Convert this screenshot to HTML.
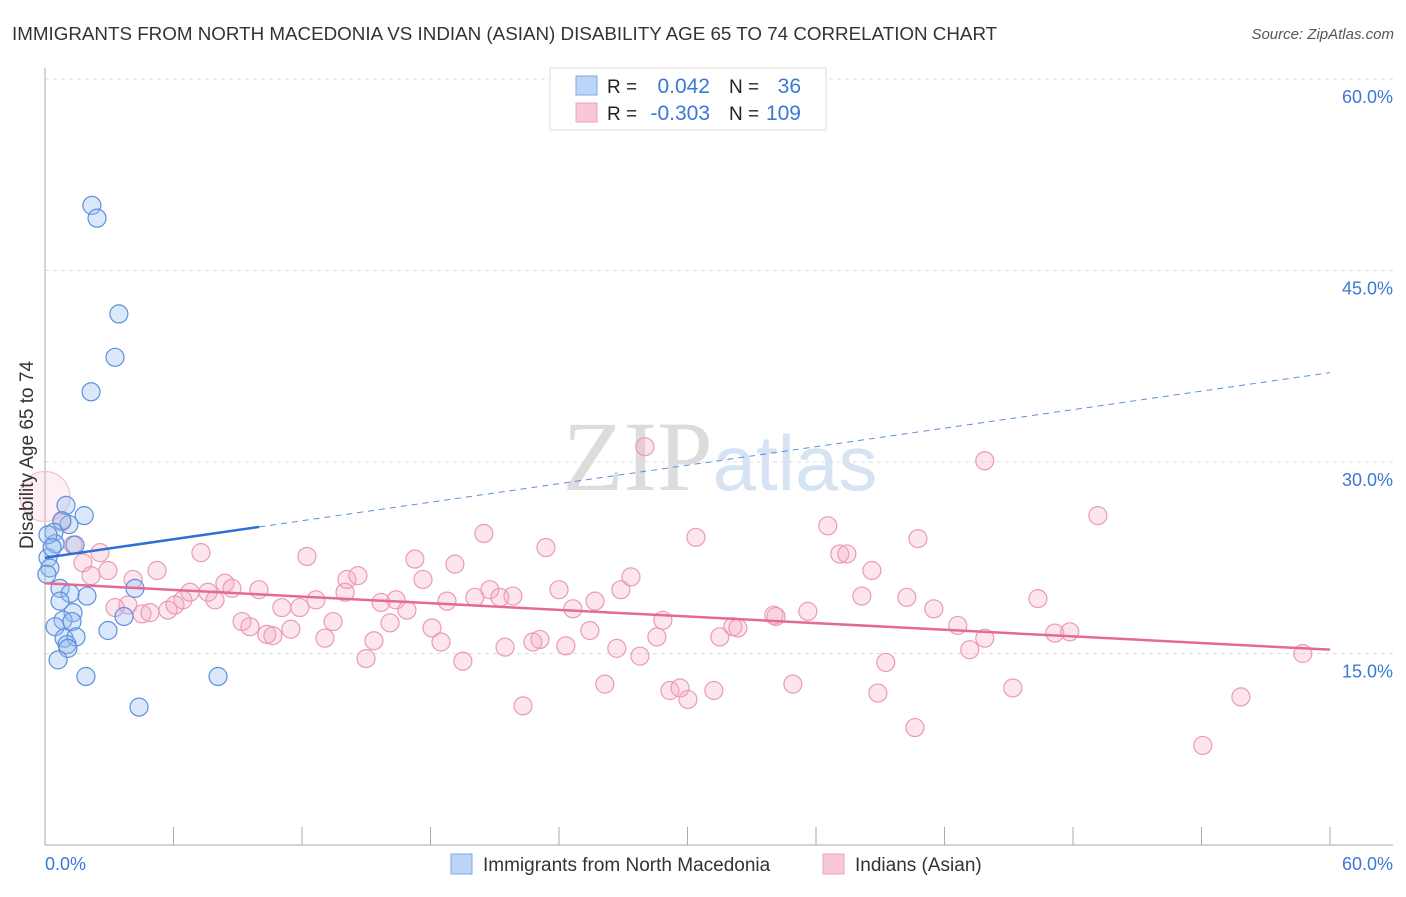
<!DOCTYPE html>
<html><head><meta charset="utf-8"><style>
body{margin:0;background:#fff;font-family:"Liberation Sans",sans-serif;}
svg text{font-family:"Liberation Sans",sans-serif;}
</style></head><body>
<svg id="chart" width="1406" height="892" viewBox="0 0 1406 892" xmlns="http://www.w3.org/2000/svg">
<text x="12" y="40" font-size="18.8" fill="#333">IMMIGRANTS FROM NORTH MACEDONIA VS INDIAN (ASIAN) DISABILITY AGE 65 TO 74 CORRELATION CHART</text>
<text x="1394" y="39" font-size="15" fill="#555" font-style="italic" text-anchor="end">Source: ZipAtlas.com</text>
<text x="720" y="490" font-size="100" fill="#e4e4e4" text-anchor="middle" font-family="Liberation Serif"><tspan fill="#dcdcdc" font-family="Liberation Serif">ZIP</tspan><tspan fill="#d5e3f3" font-family="Liberation Sans" font-size="78">atlas</tspan></text>
<g id="grid"></g>
<g id="axes"></g>
<g id="marks"></g>
<g id="lines"></g>
<text transform="translate(33,455) rotate(-90)" font-size="19" fill="#333" text-anchor="middle">Disability Age 65 to 74</text>
<g>
<rect x="550" y="68" width="276" height="62" fill="#fff" stroke="#ddd"/>
<rect x="576" y="76" width="21" height="19" fill="#bcd4f5" stroke="#7fa8e3"/>
<rect x="576" y="103" width="21" height="19" fill="#f9c8d6" stroke="#eea0ba"/>
<text x="607" y="93" font-size="19" fill="#222">R =</text>
<text x="710" y="93" font-size="21" fill="#3b78d6" text-anchor="end">0.042</text>
<text x="729" y="93" font-size="19" fill="#222">N =</text>
<text x="801" y="93" font-size="21" fill="#3b78d6" text-anchor="end">36</text>
<text x="607" y="120" font-size="19" fill="#222">R =</text>
<text x="710" y="120" font-size="21" fill="#3b78d6" text-anchor="end">-0.303</text>
<text x="729" y="120" font-size="19" fill="#222">N =</text>
<text x="801" y="120" font-size="21" fill="#3b78d6" text-anchor="end">109</text>
</g>
<g>
<rect x="451" y="854" width="21" height="20" fill="#bcd4f5" stroke="#7fa8e3"/>
<text x="483" y="871" font-size="19" fill="#333">Immigrants from North Macedonia</text>
<rect x="823" y="854" width="21" height="20" fill="#f9c8d6" stroke="#eea0ba"/>
<text x="855" y="871" font-size="19" fill="#333">Indians (Asian)</text>
</g>
</svg>
<script>
const blueX=[2.19,2.43,3.45,3.27,2.15,0.98,1.83,1.12,0.79,0.42,0.47,1.40,0.14,0.23,0.09,0.70,1.96,1.17,0.70,1.31,0.84,1.26,0.47,2.94,3.69,4.20,0.89,1.45,1.03,1.07,0.61,1.91,8.08,4.39,0.14,0.33];
const blueY=[50.1,49.1,41.6,38.2,35.5,26.6,25.8,25.1,25.4,24.5,23.6,23.5,22.5,21.7,21.2,20.1,19.5,19.7,19.1,18.2,17.6,17.5,17.1,16.8,17.9,20.1,16.2,16.3,15.7,15.4,14.5,13.2,13.2,10.8,24.3,23.3];
const pinkX=[0.0,0.79,1.31,1.77,2.57,2.15,2.94,3.87,3.27,4.11,4.53,4.90,5.23,5.74,6.07,6.44,6.77,7.28,7.61,7.94,8.40,8.73,9.20,9.57,9.99,10.36,10.64,11.06,11.48,11.90,12.23,12.65,13.07,13.45,14.10,14.61,14.01,14.99,15.36,15.69,16.11,16.39,16.90,17.27,17.65,18.07,18.49,18.77,19.14,19.51,20.07,20.49,20.77,21.24,21.48,21.85,22.32,22.78,23.11,23.39,24.00,24.32,24.65,25.44,25.68,26.14,26.70,26.89,27.36,27.78,28.01,28.57,28.85,29.18,29.65,30.02,30.39,31.23,31.51,32.12,32.35,34.03,34.13,34.92,35.62,36.55,37.11,37.44,38.14,38.61,38.89,39.26,40.24,40.62,40.76,41.50,42.62,43.18,43.88,43.88,45.19,46.36,47.15,47.85,49.16,54.06,55.84,58.73];
const pinkY=[27.3,25.3,23.5,22.1,22.9,21.1,21.5,18.8,18.6,20.8,18.1,18.2,21.5,18.4,18.8,19.2,19.8,22.9,19.8,19.2,20.5,20.1,17.5,17.1,20.0,16.5,16.4,18.6,16.9,18.6,22.6,19.2,16.2,17.5,20.8,21.1,19.8,14.6,16.0,19.0,17.4,19.2,18.4,22.4,20.8,17.0,15.9,19.1,22.0,14.4,19.4,24.4,20.0,19.4,15.5,19.5,10.9,15.9,16.1,23.3,20.0,15.6,18.5,16.8,19.1,12.6,15.4,20.0,21.0,14.8,31.2,16.3,17.6,12.1,12.3,11.4,24.1,12.1,16.3,17.1,17.0,18.0,17.9,12.6,18.3,25.0,22.8,22.8,19.5,21.5,11.9,14.3,19.4,9.2,24.0,18.5,17.2,15.3,16.2,30.1,12.3,19.3,16.6,16.7,25.8,7.8,11.6,15.0];
const pinkR=[25];
const yTicks=[15,30,45,60];
const blueTrend=[22.5,37.0];
const pinkTrend=[20.5,15.3];
const blueSolidEnd=10;

const NS="http://www.w3.org/2000/svg";
const xs=v=>45+v*(1285/60);
const ys=v=>845-v*(766/60);
function mk(tag,attrs,parent){const e=document.createElementNS(NS,tag);for(const k in attrs)e.setAttribute(k,attrs[k]);document.getElementById(parent).appendChild(e);return e;}

yTicks.forEach(t=>{
  const g=mk('line',{x1:45,x2:1393,y1:ys(t),y2:ys(t),stroke:'#ddd','stroke-dasharray':'4,4'},'grid');
  
  
  const l=mk('text',{x:1393,y:ys(t)+24,'font-size':18,fill:'#3b78d6','text-anchor':'end'},'axes');
  l.textContent=t.toFixed(1)+'%';
  
  
});
mk('line',{x1:45,x2:45,y1:68,y2:845,stroke:'#aaa'},'axes');
mk('line',{x1:45,x2:1393,y1:845,y2:845,stroke:'#aaa'},'axes');
for(let i=0;i<=10;i++){
  const v=i*6;
  const tk=mk('line',{x1:xs(v),x2:xs(v),y1:827,y2:845,stroke:'#aaa'},'axes');
  
  
}
const xl0=mk('text',{x:45,y:870,'font-size':18,fill:'#3b78d6'},'axes');
xl0.textContent='0.0%';


const xl1=mk('text',{x:1393,y:870,'font-size':18,fill:'#3b78d6','text-anchor':'end'},'axes');
xl1.textContent='60.0%';



pinkX.forEach((x,i)=>{
  const big=i<pinkR.length;
  const c=mk('circle',{cx:xs(x),cy:ys(pinkY[i]),r:(big?pinkR[i]:9),fill:big?'rgba(245,168,194,0.18)':'rgba(245,168,194,0.3)',stroke:big?'#f3c3d3':'#eb9ab5','stroke-width':1.2},'marks');
  
  
});
blueX.forEach((x,i)=>{
  const c=mk('circle',{cx:xs(x),cy:ys(blueY[i]),r:9,fill:'rgba(150,190,240,0.35)',stroke:'#5d90dc','stroke-width':1.2},'marks');
  
  
});
const by=v=>blueTrend[0]+(blueTrend[1]-blueTrend[0])*v/60;
const b1=mk('line',{x1:xs(0),y1:ys(by(0)),x2:xs(blueSolidEnd),y2:ys(by(blueSolidEnd)),stroke:'#2f6fd6','stroke-width':2.5},'lines');


const b2=mk('line',{x1:xs(blueSolidEnd),y1:ys(by(blueSolidEnd)),x2:xs(60),y2:ys(by(60)),stroke:'#5b8fde','stroke-width':1,'stroke-dasharray':'6,5'},'lines');


const p1=mk('line',{x1:xs(0),y1:ys(pinkTrend[0]),x2:xs(60),y2:ys(pinkTrend[1]),stroke:'#e46a96','stroke-width':2.5},'lines');


</script>
</body></html>
